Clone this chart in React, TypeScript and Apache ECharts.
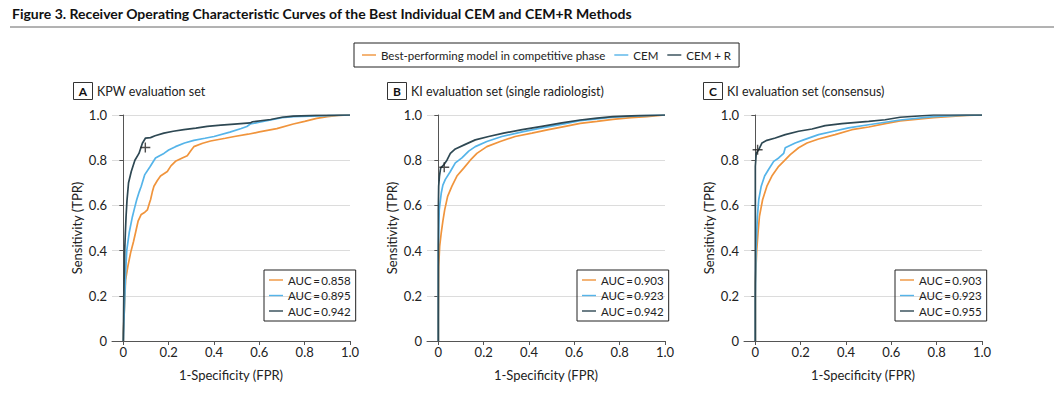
import React, { useEffect, useRef } from "react";
import * as echarts from "echarts";

const FONT = "Lato";
const chartTitle =
  "Figure 3. Receiver Operating Characteristic Curves of the Best Individual CEM and CEM+R Methods";
const methodNames = ["Best-performing model in competitive phase", "CEM", "CEM + R"];
const methodColors = ["#F0943C", "#55B4E9", "#2E4853"];
const panelLetters = ["A", "B", "C"];
const panelTitles = [
  "KPW evaluation set",
  "KI evaluation set (single radiologist)",
  "KI evaluation set (consensus)",
];
const xTicks = [0, 0.2, 0.4, 0.6, 0.8, 1.0];
const aucLabels = [
  ["AUC\u2009=\u20090.858", "AUC\u2009=\u20090.895", "AUC\u2009=\u20090.942"],
  ["AUC\u2009=\u20090.903", "AUC\u2009=\u20090.923", "AUC\u2009=\u20090.942"],
  ["AUC\u2009=\u20090.903", "AUC\u2009=\u20090.923", "AUC\u2009=\u20090.955"],
];

// [FPR, TPR]
const kpwBest = [[0,0],[0,0.035],[0.005,0.15],[0.01,0.27],[0.02,0.33],[0.032,0.39],[0.045,0.44],[0.054,0.48],[0.065,0.53],[0.079,0.56],[0.095,0.57],[0.106,0.58],[0.115,0.61],[0.12,0.625],[0.128,0.66],[0.135,0.685],[0.15,0.71],[0.164,0.73],[0.194,0.75],[0.21,0.775],[0.23,0.795],[0.26,0.81],[0.282,0.82],[0.3,0.845],[0.311,0.86],[0.35,0.875],[0.385,0.885],[0.45,0.897],[0.49,0.905],[0.55,0.915],[0.6,0.925],[0.677,0.94],[0.75,0.96],[0.8,0.972],[0.853,0.985],[0.9,0.993],[0.95,0.998],[1,1]];
const kpwCem = [[0,0],[0.003,0.1],[0.006,0.18],[0.01,0.3],[0.015,0.4],[0.026,0.48],[0.04,0.55],[0.05,0.59],[0.059,0.625],[0.07,0.66],[0.079,0.685],[0.094,0.735],[0.117,0.77],[0.142,0.81],[0.16,0.82],[0.179,0.83],[0.2,0.845],[0.23,0.86],[0.27,0.876],[0.311,0.888],[0.36,0.897],[0.4,0.905],[0.47,0.924],[0.52,0.94],[0.545,0.949],[0.56,0.96],[0.6,0.968],[0.65,0.978],[0.7,0.988],[0.75,0.993],[0.9,0.997],[1,1]];
const kpwCemR = [[0,0],[0.002,0.2],[0.004,0.3],[0.006,0.4],[0.009,0.48],[0.012,0.55],[0.016,0.62],[0.023,0.7],[0.035,0.75],[0.051,0.8],[0.069,0.83],[0.084,0.875],[0.098,0.898],[0.12,0.9],[0.14,0.908],[0.179,0.92],[0.22,0.928],[0.267,0.935],[0.32,0.942],[0.37,0.95],[0.43,0.955],[0.49,0.96],[0.56,0.965],[0.57,0.97],[0.65,0.98],[0.7,0.99],[0.75,0.995],[0.85,0.998],[1,1]];

const kiSingleBest = [[0,0],[0,0.1],[0.001,0.25],[0.0015,0.33],[0.006,0.42],[0.013,0.48],[0.02,0.53],[0.028,0.58],[0.041,0.64],[0.06,0.685],[0.082,0.73],[0.112,0.765],[0.141,0.8],[0.17,0.83],[0.214,0.86],[0.273,0.883],[0.339,0.905],[0.413,0.92],[0.486,0.935],[0.56,0.95],[0.626,0.963],[0.7,0.972],[0.77,0.981],[0.85,0.988],[0.92,0.993],[1,1]];
const kiSingleCem = [[0,0],[0,0.21],[0,0.4],[0.002,0.5],[0.004,0.58],[0.013,0.655],[0.02,0.69],[0.031,0.715],[0.053,0.75],[0.075,0.788],[0.104,0.81],[0.134,0.84],[0.163,0.86],[0.214,0.883],[0.28,0.905],[0.37,0.925],[0.457,0.943],[0.56,0.962],[0.626,0.975],[0.7,0.983],[0.77,0.99],[0.88,0.996],[1,1]];
const kiSingleCemR = [[0,0],[0,0.4],[0,0.58],[0.0015,0.685],[0.005,0.73],[0.01,0.765],[0.024,0.78],[0.038,0.8],[0.053,0.83],[0.075,0.85],[0.119,0.87],[0.163,0.89],[0.222,0.905],[0.288,0.92],[0.37,0.935],[0.457,0.95],[0.545,0.965],[0.626,0.978],[0.7,0.986],[0.77,0.993],[0.88,0.997],[1,1]];

const kiConsBest = [[0,0],[0,0.15],[0,0.257],[0.006,0.4],[0.012,0.48],[0.018,0.55],[0.032,0.625],[0.051,0.685],[0.073,0.73],[0.103,0.773],[0.125,0.795],[0.154,0.825],[0.191,0.855],[0.228,0.876],[0.279,0.894],[0.352,0.913],[0.426,0.935],[0.5,0.947],[0.573,0.962],[0.639,0.974],[0.786,0.988],[0.933,0.998],[1,1]];
const kiConsCem = [[0,0],[0,0.2],[0.003,0.4],[0.009,0.55],[0.015,0.625],[0.026,0.685],[0.041,0.73],[0.059,0.76],[0.081,0.795],[0.103,0.81],[0.125,0.83],[0.132,0.855],[0.176,0.876],[0.213,0.89],[0.279,0.913],[0.345,0.928],[0.411,0.943],[0.5,0.957],[0.573,0.968],[0.639,0.978],[0.786,0.993],[0.9,0.998],[1,1]];
const kiConsCemR = [[0,0],[0,0.5],[0,0.7],[0,0.773],[0.004,0.83],[0.015,0.847],[0.029,0.876],[0.051,0.888],[0.088,0.898],[0.132,0.913],[0.191,0.928],[0.25,0.938],[0.308,0.953],[0.382,0.962],[0.5,0.972],[0.573,0.979],[0.639,0.99],[0.786,1],[1,1]];

const panelCurves = [
  [kpwBest, kpwCem, kpwCemR],
  [kiSingleBest, kiSingleCem, kiSingleCemR],
  [kiConsBest, kiConsCem, kiConsCemR],
];
// operating point markers (+)
const operatingPoints = [[0.097, 0.856], [0.026, 0.769], [0.01, 0.846]];

const gridLefts = [112, 427, 744];
const GRID_TOP = 115;
const GRID_W = 238;
const GRID_H = 226;
const lineIcon = "path://M0,0H20V2H0Z";
const plusIcon = "path://M4.3,0H5.7V4.3H10V5.7H5.7V10H4.3V5.7H0V4.3H4.3Z";

export default function App() {
  const ref = useRef<HTMLDivElement>(null);
  useEffect(() => {
    if (!ref.current) return;
    const chart = echarts.init(ref.current, null, { renderer: "svg" });
    const fmt = (v: number) => (v === 0 ? "0" : v.toFixed(1));
    const grids = gridLefts.map((l) => ({ left: l, top: GRID_TOP, width: GRID_W, height: GRID_H }));
    const xAxes = gridLefts.map((_, i) => ({
      type: "value",
      gridIndex: i,
      min: -0.05,
      max: 1,
      name: "1-Specificity (FPR)",
      nameLocation: "middle",
      nameGap: 27,
      nameTextStyle: { fontSize: 13, color: "#222", fontFamily: FONT },
      axisLine: { show: true, lineStyle: { color: "#555", width: 1 } },
      axisTick: { show: true, length: 4, customValues: xTicks, lineStyle: { color: "#555" } },
      axisLabel: { customValues: xTicks, formatter: fmt, fontSize: 13, color: "#222", margin: 4, fontFamily: FONT },
      splitLine: { show: false },
    }));
    const yAxes = gridLefts.map((_, i) => ({
      type: "value",
      gridIndex: i,
      min: 0,
      max: 1,
      interval: 0.2,
      name: "Sensitivity (TPR)",
      nameLocation: "middle",
      nameGap: 29,
      nameTextStyle: { fontSize: 13, color: "#222", fontFamily: FONT },
      axisLine: { show: true, lineStyle: { color: "#555", width: 1 } },
      axisTick: { show: true, length: 4, lineStyle: { color: "#555" } },
      axisLabel: { formatter: fmt, fontSize: 13, color: "#222", margin: 5, fontFamily: FONT },
      splitLine: { show: true, lineStyle: { color: "#dcdcdc", width: 1 } },
    }));
    const series: any[] = [];
    methodNames.forEach((n, k) => {
      series.push({
        type: "line",
        name: n,
        xAxisIndex: 0,
        yAxisIndex: 0,
        data: [],
        color: methodColors[k],
        symbol: "none",
      });
    });
    panelCurves.forEach((curves, i) => {
      curves.forEach((c, k) => {
        series.push({
          type: "line",
          name: aucLabels[i][k],
          xAxisIndex: i,
          yAxisIndex: i,
          data: c,
          color: methodColors[k],
          symbol: "none",
          lineStyle: { width: 1.7, color: methodColors[k] },
          z: 2 + k,
        });
      });
      series.push({
        type: "scatter",
        name: "op" + i,
        xAxisIndex: i,
        yAxisIndex: i,
        data: [operatingPoints[i]],
        symbol: plusIcon,
        symbolSize: 10,
        itemStyle: { color: "#222" },
        z: 10,
      });
    });
    const legends: any[] = [
      {
        data: methodNames,
        left: 354,
        top: 43,
        icon: lineIcon,
        itemWidth: 14,
        itemHeight: 2,
        itemGap: 9,
        padding: [6, 8],
        borderColor: "#222",
        borderWidth: 1,
        selectedMode: false,
        textStyle: { fontSize: 11.5, color: "#222", fontFamily: FONT },
      },
    ];
    const aucLefts = [264, 577, 895];
    aucLabels.forEach((labels, i) => {
      legends.push({
        data: labels,
        orient: "vertical",
        left: aucLefts[i],
        top: 270,
        icon: lineIcon,
        itemWidth: 14,
        itemHeight: 2,
        itemGap: 3.5,
        padding: [4, 5],
        borderColor: "#222",
        borderWidth: 1,
        selectedMode: false,
        textStyle: { fontSize: 11.5, color: "#222", fontFamily: FONT },
      });
    });
    const boxLefts = [73, 387, 703];
    const graphics: any[] = [
      {
        type: "text",
        left: 12,
        top: 6,
        style: { text: chartTitle, font: `bold 14px ${FONT}`, fill: "#111" },
      },
      {
        type: "line",
        shape: { x1: 10, y1: 27, x2: 1054, y2: 27 },
        style: { stroke: "#666", lineWidth: 1 },
      },
    ];
    panelLetters.forEach((L, i) => {
      graphics.push({
        type: "rect",
        shape: { x: boxLefts[i] + 0.5, y: 82.5, width: 19, height: 17 },
        style: { fill: "none", stroke: "#333", lineWidth: 1 },
      });
      graphics.push({
        type: "text",
        x: boxLefts[i] + 10,
        y: 91,
        style: { text: L, font: `bold 12px ${FONT}`, fill: "#111", align: "center", verticalAlign: "middle" },
      });
      graphics.push({
        type: "text",
        x: boxLefts[i] + 24,
        y: 91,
        style: { text: panelTitles[i], font: `12.5px ${FONT}`, fill: "#222", verticalAlign: "middle" },
      });
    });
    chart.setOption({
      animation: false,
      textStyle: { fontFamily: FONT },
      grid: grids,
      xAxis: xAxes,
      yAxis: yAxes,
      legend: legends,
      series,
      graphic: graphics,
    });
    return () => chart.dispose();
  }, []);
  return (
    <div
      ref={ref}
      style={{ position: "absolute", left: 0, top: 0, width: 1064, height: 397, background: "#fff" }}
    />
  );
}
